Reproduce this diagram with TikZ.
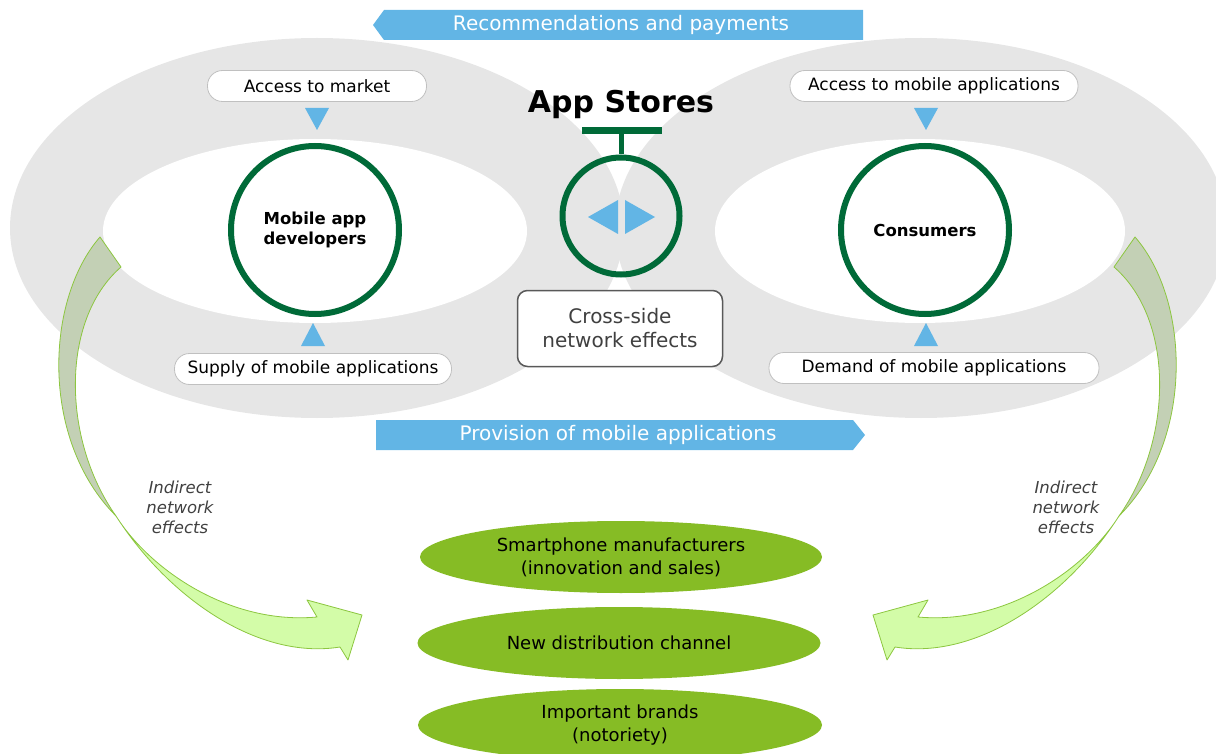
\documentclass[tikz,border=0pt]{standalone}
\usepackage{fontspec}
\setmainfont{DejaVu Sans}
\usetikzlibrary{shapes.geometric}
\definecolor{grayring}{HTML}{E6E6E6}
\definecolor{dgreen}{HTML}{006A38}
\definecolor{lblue}{HTML}{62B5E5}
\definecolor{lgreen}{HTML}{86BC25}
\definecolor{txtgray}{HTML}{404040}
\definecolor{arrowdark}{HTML}{C3D0B5}
\definecolor{arrowlight}{HTML}{D3FCA8}
\definecolor{arrowline}{HTML}{8CC63F}
\definecolor{pillline}{HTML}{C0C0C0}
\definecolor{boxline}{HTML}{595959}
\tikzset{
  pill/.style={draw=pillline, line width=0.8, fill=white, rounded corners=15, minimum height=31, inner sep=0,
    font=\fontsize{17}{20}\selectfont, text=black},
  actor/.style={circle, draw=dgreen, line width=6, fill=white, minimum size=168, inner sep=0, align=center,
    font=\bfseries\fontsize{16.5}{20}\selectfont},
  banner/.style={font=\fontsize{20}{24}\selectfont, text=white},
  outcome/.style={ellipse, fill=lgreen, minimum height=72, inner sep=0, align=center,
    font=\fontsize{18}{23}\selectfont},
  indirect/.style={align=center, text=txtgray, font=\itshape\fontsize{16.5}{20}\selectfont},
  bigarrowdark/.style={fill=arrowdark, draw=arrowline, line width=0.8, line join=round},
  bigarrowlight/.style={fill=arrowlight, draw=arrowline, line width=0.8, line join=round},
}
\newcommand{\curvedarrow}{%
  \path[bigarrowdark] (100,237) .. controls (45,300) and (40,440) .. (116,516)
     .. controls (62,440) and (60,320) .. (121,267) -- cycle;
  \path[bigarrowlight] (116,516) .. controls (170,600) and (260,660) .. (340,647)
     -- (348,660) -- (362,615) -- (307,600) -- (317,617)
     .. controls (230,625) and (150,570) .. (116,516) -- cycle;
}
\begin{document}
\begin{tikzpicture}[x=1pt,y=-1pt]
\useasboundingbox (0,0) rectangle (1216,754);
% grey rings
\fill[grayring] (317,228) ellipse [x radius=307, y radius=190];
\fill[grayring] (921,228) ellipse [x radius=306, y radius=190];
\fill[white] (315,231) ellipse [x radius=212, y radius=92];
\fill[white] (920,231) ellipse [x radius=205, y radius=92];

% banners
\fill[lblue] (373,25) -- (384,10) -- (863,10) -- (863,40) -- (384,40) -- cycle;
\node[banner] (rec) at (621,25) {Recommendations and payments};
\fill[lblue] (376,420) -- (853,420) -- (865,435) -- (853,450) -- (376,450) -- cycle;
\node[banner] (prov) at (618,435) {Provision of mobile applications};

% actors
\node[actor] (dev) at (315,230) {Mobile app\\developers};
\node[actor] (cons) at (925,230) {Consumers};

% app store
\node[font=\bfseries\fontsize{30}{36}\selectfont] (as) at (621,104) {App Stores};
\node[circle, draw=dgreen, line width=6, minimum size=117, inner sep=0] (hub) at (621,216) {};
\coordinate (tbar) at (621,131);
\draw[dgreen, line width=7] (582,131) -- (662,131);
\draw[dgreen, line width=5] (tbar) -- (hub.north);
\fill[lblue] (588,217) -- (618,200) -- (618,234) -- cycle;
\fill[lblue] (655,217) -- (625,200) -- (625,234) -- cycle;
\node[draw=boxline, line width=1.5, rounded corners=10, fill=white, minimum width=205, minimum height=76,
  align=center, text=txtgray, font=\fontsize{20}{24}\selectfont] (cross) at (620,328.5) {Cross-side\\network effects};

% pills
\node[pill, minimum width=219] (acc1) at (317,86) {Access to market};
\node[pill, minimum width=288] (acc2) at (934,86) {Access to mobile applications};
\node[pill, minimum width=277] (sup) at (313,369) {Supply of mobile applications};
\node[pill, minimum width=330] (dem) at (934,368) {Demand of mobile applications};
\fill[lblue] (305,108) -- (329,108) -- (317,130) -- cycle;
\fill[lblue] (301,346) -- (325,346) -- (313,323) -- cycle;
\fill[lblue] (914,108) -- (938,108) -- (926,130) -- cycle;
\fill[lblue] (914,346) -- (938,346) -- (926,323) -- cycle;

% curved arrows
\curvedarrow
\begin{scope}[xshift=1235pt, xscale=-1]
\curvedarrow
\end{scope}
\node[indirect] (ind1) at (180,507) {Indirect\\network\\effects};
\node[indirect] (ind2) at (1066,507) {Indirect\\network\\effects};

% outcomes
\node[outcome, minimum width=402] (o1) at (621,557) {Smartphone manufacturers\\(innovation and sales)};
\node[outcome, minimum width=403] (o2) at (619,643) {New distribution channel};
\node[outcome, minimum width=404] (o3) at (620,725) {Important brands\\(notoriety)};
\end{tikzpicture}
\end{document}
